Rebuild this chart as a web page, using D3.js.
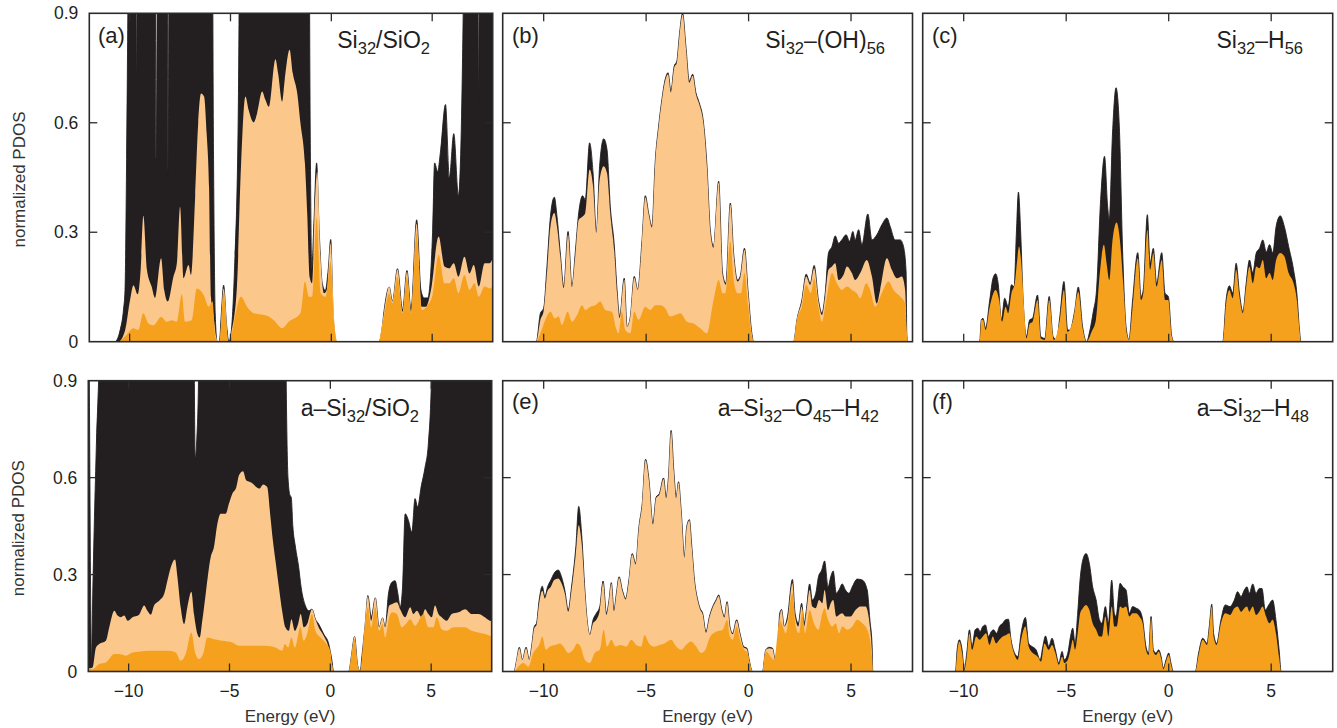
<!DOCTYPE html>
<html><head><meta charset="utf-8">
<script src="https://cdn.jsdelivr.net/npm/d3@7/dist/d3.min.js"></script>
<style>
html,body{margin:0;padding:0;background:#fff;}
svg{display:block;font-family:"Liberation Sans",Arial,Helvetica,sans-serif;}
</style></head>
<body>
<svg id="chart" width="1337" height="728"></svg>
<script>
// ---------------- data (energy in eV, normalized PDOS; cumulative levels) ----------------
const xTicks = [-10, -5, 0, 5];
const xTickLabels = ["\u221210", "\u22125", "0", "5"];
const yTicks = [0, 0.3, 0.6, 0.9];
const yTickLabels = ["0", "0.3", "0.6", "0.9"];
const panelLetters = ["(a)", "(b)", "(c)", "(d)", "(e)", "(f)"];
const panelFormulas = [
  [["Si",0],["32",1],["/SiO",0],["2",1]],
  [["Si",0],["32",1],["\u2013(OH)",0],["56",1]],
  [["Si",0],["32",1],["\u2013H",0],["56",1]],
  [["a\u2013Si",0],["32",1],["/SiO",0],["2",1]],
  [["a\u2013Si",0],["32",1],["\u2013O",0],["45",1],["\u2013H",0],["42",1]],
  [["a\u2013Si",0],["32",1],["\u2013H",0],["48",1]]
];

// (a) Si32/SiO2
const aTotal = [[-12,0],[-10.73,0],[-10.48,0.03],[-10.3,0.09],[-10.23,0.14],[-10.15,0.5],[-10.07,1.0],[-9.98,1.3],[-9.72,1.3],[-9.66,0.73],[-9.6,1.3],[-8.76,1.3],[-8.68,0.5],[-8.6,1.3],[-8.15,1.3],[-8.09,0.45],[-8.03,1.3],[-5.92,1.3],[-5.84,0.5],[-5.76,0.08],[-5.66,0],[-5.55,0],[-5.45,0.08],[-5.34,0.155],[-5.2,0.05],[-5.08,0],[-4.98,0.02],[-4.8,0.2],[-4.62,0.6],[-4.5,1.3],[-1.12,1.3],[-1.05,0.6],[-0.97,0.2],[-0.88,0.3],[-0.73,0.49],[-0.6,0.3],[-0.45,0.16],[-0.3,0.14],[-0.15,0.2],[-0.03,0.28],[0.1,0.06],[0.25,0],[2.37,0],[2.5,0.03],[2.62,0.087],[2.87,0.15],[3.03,0.11],[3.28,0.2],[3.53,0.087],[3.75,0.195],[3.95,0.087],[4.23,0.334],[4.44,0.142],[4.6,0.12],[4.78,0.12],[5.02,0.3],[5.12,0.49],[5.27,0.466],[5.41,0.52],[5.66,0.65],[5.85,0.45],[6.07,0.57],[6.3,0.40],[6.45,0.6],[6.55,0.95],[6.63,1.3],[7.24,1.3],[7.3,0.66],[7.36,1.3],[8,1.3]];
const aMid = [[-12,0],[-10.56,0],[-10.23,0.03],[-9.98,0.114],[-9.81,0.155],[-9.6,0.13],[-9.45,0.2],[-9.32,0.345],[-9.15,0.2],[-8.91,0.151],[-8.74,0.12],[-8.44,0.229],[-8.28,0.14],[-8.11,0.11],[-7.83,0.178],[-7.66,0.215],[-7.5,0.37],[-7.33,0.174],[-7.08,0.21],[-6.96,0.183],[-6.75,0.4],[-6.6,0.6],[-6.46,0.68],[-6.31,0.672],[-6.18,0.57],[-6.06,0.42],[-5.97,0.123],[-5.84,0.07],[-5.7,0.01],[-5.62,0],[-5.55,0],[-5.34,0.146],[-5.1,0],[-5.04,0],[-4.96,0.023],[-4.68,0.151],[-4.48,0.48],[-4.26,0.672],[-4.1,0.635],[-3.85,0.601],[-3.68,0.626],[-3.43,0.686],[-3.27,0.663],[-3.1,0.644],[-2.77,0.774],[-2.64,0.736],[-2.44,0.658],[-2.31,0.718],[-2.07,0.80],[-1.91,0.736],[-1.69,0.681],[-1.53,0.599],[-1.31,0.489],[-1.19,0.343],[-1.08,0.178],[-0.95,0.16],[-0.81,0.388],[-0.7,0.466],[-0.53,0.224],[-0.36,0.133],[-0.23,0.142],[-0.03,0.27],[0.13,0.069],[0.3,0],[2.37,0],[2.45,0.023],[2.62,0.082],[2.87,0.151],[3.03,0.11],[3.28,0.198],[3.53,0.082],[3.75,0.192],[3.95,0.082],[4.23,0.324],[4.48,0.096],[4.69,0.096],[4.94,0.142],[5.32,0.288],[5.61,0.206],[5.85,0.201],[6.07,0.215],[6.3,0.178],[6.6,0.233],[6.85,0.187],[7.06,0.21],[7.31,0.151],[7.6,0.215],[7.84,0.215],[8,0.229]];
const aLow = [[-12,0],[-10.56,0],[-10.23,0.014],[-9.81,0.037],[-9.57,0.032],[-9.32,0.078],[-9.07,0.05],[-8.82,0.045],[-8.44,0.068],[-8.16,0.055],[-7.91,0.059],[-7.66,0.055],[-7.41,0.13],[-7.25,0.055],[-6.92,0.059],[-6.67,0.146],[-6.33,0.128],[-6.08,0.096],[-5.89,0.11],[-5.75,0.014],[-5.62,0],[-5.55,0],[-5.34,0.133],[-5.1,0],[-5.04,0],[-4.84,0.05],[-4.48,0.123],[-4.18,0.096],[-3.85,0.078],[-3.35,0.073],[-3.1,0.069],[-2.85,0.059],[-2.44,0.037],[-2.11,0.055],[-1.53,0.078],[-1.31,0.165],[-1.11,0.123],[-0.95,0.123],[-0.73,0.34],[-0.53,0.133],[-0.28,0.123],[-0.03,0.219],[0.13,0.059],[0.3,0],[2.37,0],[2.45,0.023],[2.62,0.073],[2.87,0.133],[3.03,0.105],[3.28,0.178],[3.53,0.078],[3.75,0.178],[3.95,0.078],[4.23,0.297],[4.48,0.087],[4.78,0.10],[5.02,0.128],[5.32,0.238],[5.61,0.16],[5.85,0.16],[6.07,0.174],[6.3,0.133],[6.6,0.183],[6.85,0.142],[7.1,0.16],[7.31,0.123],[7.6,0.151],[7.84,0.146],[8,0.151]];

// (b) Si32-(OH)56
const bTotal = [[-12,0],[-10.36,0],[-10.16,0.078],[-10.0,0.092],[-9.84,0.206],[-9.67,0.343],[-9.48,0.396],[-9.35,0.343],[-9.19,0.243],[-9.02,0.151],[-8.81,0.302],[-8.62,0.151],[-8.46,0.243],[-8.29,0.353],[-8.10,0.40],[-7.97,0.389],[-7.76,0.545],[-7.59,0.462],[-7.43,0.298],[-7.27,0.481],[-7.07,0.556],[-6.91,0.527],[-6.75,0.371],[-6.55,0.261],[-6.42,0.142],[-6.29,0.069],[-6.07,0.174],[-5.93,0.041],[-5.77,0.069],[-5.58,0.179],[-5.41,0.142],[-5.20,0.279],[-5.04,0.40],[-4.88,0.353],[-4.72,0.316],[-4.55,0.499],[-4.39,0.591],[-4.23,0.664],[-4.07,0.719],[-3.93,0.737],[-3.79,0.687],[-3.63,0.755],[-3.50,0.769],[-3.38,0.838],[-3.22,0.90],[-3.06,0.81],[-2.89,0.714],[-2.73,0.733],[-2.57,0.682],[-2.41,0.655],[-2.20,0.60],[-2.03,0.481],[-1.87,0.307],[-1.71,0.261],[-1.46,0.44],[-1.27,0.188],[-1.11,0.16],[-0.89,0.38],[-0.73,0.243],[-0.54,0.169],[-0.41,0.179],[-0.20,0.256],[-0.03,0.142],[0.16,0.023],[0.24,0],[2.2,0],[2.36,0.06],[2.60,0.114],[2.81,0.185],[3.01,0.16],[3.20,0.209],[3.41,0.114],[3.58,0.078],[3.74,0.133],[3.90,0.243],[4.07,0.261],[4.23,0.29],[4.39,0.27],[4.55,0.279],[4.76,0.293],[4.93,0.275],[5.09,0.302],[5.20,0.279],[5.37,0.307],[5.53,0.266],[5.82,0.35],[6.02,0.279],[6.26,0.293],[6.50,0.32],[6.75,0.339],[6.91,0.316],[7.15,0.279],[7.40,0.279],[7.56,0.261],[7.69,0.188],[7.72,0.023],[7.76,0],[8,0]];
const bMid = [[-12,0],[-10.36,0],[-10.16,0.06],[-10.0,0.085],[-9.84,0.188],[-9.67,0.316],[-9.48,0.353],[-9.35,0.316],[-9.19,0.234],[-9.02,0.147],[-8.81,0.293],[-8.62,0.149],[-8.46,0.234],[-8.29,0.334],[-8.10,0.343],[-7.97,0.353],[-7.76,0.472],[-7.59,0.426],[-7.43,0.298],[-7.27,0.444],[-7.07,0.481],[-6.91,0.462],[-6.75,0.35],[-6.55,0.243],[-6.42,0.133],[-6.29,0.065],[-6.07,0.17],[-5.93,0.041],[-5.77,0.069],[-5.58,0.175],[-5.41,0.142],[-5.20,0.275],[-5.04,0.396],[-4.88,0.35],[-4.72,0.313],[-4.55,0.496],[-4.39,0.588],[-4.23,0.66],[-4.07,0.715],[-3.93,0.733],[-3.79,0.683],[-3.63,0.75],[-3.50,0.765],[-3.38,0.834],[-3.22,0.896],[-3.06,0.806],[-2.89,0.71],[-2.73,0.729],[-2.57,0.678],[-2.41,0.651],[-2.20,0.596],[-2.03,0.477],[-1.87,0.303],[-1.71,0.257],[-1.46,0.436],[-1.27,0.184],[-1.11,0.156],[-0.89,0.376],[-0.73,0.239],[-0.54,0.165],[-0.41,0.175],[-0.20,0.252],[-0.03,0.138],[0.16,0.02],[0.24,0],[2.2,0],[2.36,0.06],[2.60,0.11],[2.81,0.179],[3.01,0.156],[3.20,0.201],[3.41,0.11],[3.58,0.073],[3.74,0.124],[3.90,0.197],[4.07,0.206],[4.23,0.215],[4.39,0.169],[4.63,0.183],[4.80,0.206],[5.04,0.188],[5.20,0.169],[5.45,0.188],[5.77,0.224],[6.02,0.179],[6.26,0.105],[6.42,0.142],[6.75,0.229],[6.99,0.197],[7.24,0.174],[7.48,0.179],[7.64,0.142],[7.72,0.023],[7.76,0],[8,0]];
const bLow = [[-12,0],[-10.36,0],[-10.16,0.023],[-9.92,0.06],[-9.67,0.082],[-9.46,0.064],[-9.27,0.069],[-9.11,0.046],[-8.83,0.082],[-8.62,0.055],[-8.37,0.073],[-8.13,0.10],[-7.97,0.087],[-7.72,0.096],[-7.48,0.10],[-7.24,0.11],[-6.99,0.087],[-6.67,0.082],[-6.47,0.037],[-6.34,0.023],[-6.18,0.082],[-6.02,0.032],[-5.77,0.023],[-5.58,0.082],[-5.37,0.06],[-5.04,0.096],[-4.80,0.087],[-4.55,0.10],[-4.31,0.10],[-4.07,0.092],[-3.82,0.069],[-3.58,0.073],[-3.33,0.078],[-3.01,0.055],[-2.68,0.05],[-2.36,0.037],[-2.03,0.023],[-1.71,0.114],[-1.46,0.169],[-1.27,0.133],[-1.14,0.133],[-0.89,0.275],[-0.73,0.169],[-0.54,0.133],[-0.37,0.133],[-0.20,0.188],[-0.03,0.105],[0.16,0.014],[0.24,0],[2.2,0],[2.36,0.06],[2.60,0.096],[2.81,0.156],[3.04,0.133],[3.20,0.174],[3.41,0.096],[3.58,0.055],[3.74,0.096],[3.90,0.151],[4.07,0.188],[4.31,0.16],[4.55,0.142],[4.80,0.151],[5.04,0.142],[5.28,0.133],[5.45,0.119],[5.74,0.16],[5.93,0.142],[6.18,0.096],[6.50,0.133],[6.83,0.165],[7.07,0.142],[7.40,0.124],[7.64,0.105],[7.72,0.023],[7.76,0],[8,0]];

// (c) Si32-H56
const cTotal = [[-12,0],[-9.22,0],[-9.14,0.06],[-9.06,0.064],[-8.93,0.037],[-8.73,0.114],[-8.57,0.174],[-8.44,0.186],[-8.32,0.16],[-8.16,0.06],[-8.0,0.119],[-7.83,0.096],[-7.67,0.156],[-7.54,0.151],[-7.43,0.298],[-7.33,0.41],[-7.22,0.298],[-7.10,0.114],[-6.94,0.014],[-6.78,0.06],[-6.64,0.064],[-6.40,0.128],[-6.24,0.014],[-6.04,0.009],[-5.83,0.124],[-5.64,0.014],[-5.47,0.005],[-5.31,0.069],[-5.11,0.165],[-4.93,0.032],[-4.82,0.032],[-4.58,0.087],[-4.41,0.15],[-4.20,0.041],[-4.01,0],[-3.84,0.032],[-3.68,0.082],[-3.52,0.142],[-3.32,0.389],[-3.13,0.508],[-2.98,0.371],[-2.90,0.334],[-2.74,0.572],[-2.57,0.696],[-2.41,0.591],[-2.25,0.252],[-2.08,0.041],[-1.94,0.005],[-1.76,0.114],[-1.51,0.244],[-1.35,0.124],[-1.24,0.142],[-1.04,0.348],[-0.91,0.215],[-0.75,0.256],[-0.59,0.160],[-0.34,0.244],[-0.18,0.133],[-0.02,0.124],[0.15,0.014],[0.26,0],[2.64,0],[2.80,0.114],[2.96,0.153],[3.13,0.133],[3.29,0.215],[3.45,0.133],[3.62,0.082],[3.78,0.16],[3.94,0.224],[4.10,0.188],[4.27,0.243],[4.43,0.256],[4.59,0.279],[4.76,0.246],[4.92,0.266],[5.08,0.243],[5.24,0.316],[5.44,0.345],[5.64,0.316],[5.85,0.261],[6.09,0.197],[6.25,0.133],[6.38,0.032],[6.45,0],[8,0]];
const cLow = [[-12,0],[-9.22,0],[-9.14,0.06],[-9.06,0.06],[-8.93,0.032],[-8.73,0.096],[-8.44,0.142],[-8.27,0.114],[-8.13,0.055],[-7.96,0.096],[-7.83,0.078],[-7.67,0.133],[-7.51,0.16],[-7.39,0.224],[-7.30,0.261],[-7.18,0.206],[-7.05,0.087],[-6.94,0.009],[-6.78,0.05],[-6.64,0.055],[-6.40,0.114],[-6.24,0.009],[-6.04,0.005],[-5.83,0.114],[-5.60,0.005],[-5.31,0.06],[-5.11,0.142],[-4.93,0.027],[-4.66,0.06],[-4.41,0.137],[-4.20,0.037],[-4.01,0],[-3.76,0.027],[-3.55,0.06],[-3.36,0.188],[-3.16,0.266],[-3.03,0.215],[-2.90,0.169],[-2.74,0.279],[-2.54,0.327],[-2.38,0.279],[-2.21,0.151],[-2.05,0.023],[-1.94,0.005],[-1.76,0.096],[-1.51,0.229],[-1.35,0.114],[-1.24,0.133],[-1.04,0.307],[-0.91,0.197],[-0.75,0.243],[-0.59,0.151],[-0.34,0.224],[-0.18,0.114],[-0.02,0.114],[0.15,0.014],[0.26,0],[2.64,0],[2.80,0.105],[2.96,0.142],[3.13,0.119],[3.29,0.197],[3.45,0.124],[3.62,0.078],[3.78,0.151],[3.94,0.206],[4.10,0.16],[4.27,0.206],[4.43,0.201],[4.59,0.224],[4.76,0.174],[4.92,0.188],[5.08,0.169],[5.24,0.224],[5.44,0.243],[5.64,0.234],[5.85,0.188],[6.09,0.16],[6.25,0.114],[6.38,0.032],[6.45,0],[8,0]];

// (d) a-Si32/SiO2
const dTotal = [[-12,1.3],[-11.95,0.9],[-11.88,0.2],[-11.84,0.02],[-11.79,0.2],[-11.6,0.7],[-11.45,1.0],[-11.37,1.3],[-6.8,1.3],[-6.7,0.66],[-6.62,0.72],[-6.55,0.85],[-6.45,1.3],[-2.25,1.3],[-2.19,0.9],[-2.1,0.6],[-2.0,0.545],[-1.94,0.54],[-1.86,0.45],[-1.73,0.385],[-1.57,0.323],[-1.45,0.261],[-1.24,0.204],[-1.07,0.188],[-0.91,0.193],[-0.74,0.162],[-0.58,0.147],[-0.33,0.116],[-0.08,0.085],[0.08,0.033],[0.16,0],[0.91,0],[1.05,0.05],[1.2,0.108],[1.35,0.02],[1.48,0],[1.57,0.05],[1.73,0.147],[1.86,0.235],[2.03,0.168],[2.23,0.228],[2.42,0.137],[2.59,0.166],[2.72,0.137],[2.88,0.24],[3.05,0.276],[3.21,0.281],[3.35,0.24],[3.46,0.199],[3.58,0.261],[3.71,0.488],[3.87,0.468],[4.04,0.431],[4.2,0.535],[4.33,0.509],[4.5,0.571],[4.7,0.633],[4.86,0.705],[5.03,0.95],[5.1,1.3],[8,1.3]];
const dMid = [[-12,0.01],[-11.9,0.01],[-11.79,0.012],[-11.62,0.074],[-11.46,0.085],[-11.13,0.095],[-10.96,0.137],[-10.71,0.188],[-10.55,0.173],[-10.38,0.168],[-10.22,0.173],[-10.05,0.157],[-9.81,0.168],[-9.48,0.176],[-9.23,0.204],[-9.07,0.188],[-8.90,0.176],[-8.74,0.204],[-8.49,0.219],[-8.24,0.24],[-8.08,0.281],[-7.91,0.323],[-7.70,0.347],[-7.58,0.292],[-7.42,0.199],[-7.25,0.147],[-7.09,0.199],[-6.89,0.247],[-6.76,0.178],[-6.59,0.116],[-6.48,0.105],[-6.35,0.157],[-6.18,0.24],[-5.93,0.354],[-5.77,0.385],[-5.60,0.457],[-5.44,0.488],[-5.19,0.488],[-5.03,0.519],[-4.86,0.55],[-4.66,0.571],[-4.53,0.607],[-4.33,0.62],[-4.17,0.592],[-4.01,0.587],[-3.84,0.581],[-3.68,0.571],[-3.51,0.566],[-3.33,0.579],[-3.13,0.571],[-2.97,0.478],[-2.85,0.406],[-2.72,0.343],[-2.55,0.261],[-2.39,0.188],[-2.23,0.137],[-2.06,0.126],[-1.93,0.162],[-1.76,0.126],[-1.60,0.147],[-1.47,0.178],[-1.32,0.137],[-1.15,0.147],[-0.91,0.193],[-0.74,0.162],[-0.58,0.137],[-0.33,0.111],[-0.08,0.074],[0.08,0.023],[0.16,0],[0.91,0],[1.05,0.05],[1.2,0.108],[1.35,0.02],[1.48,0],[1.57,0.033],[1.73,0.157],[1.86,0.233],[2.03,0.157],[2.23,0.228],[2.42,0.137],[2.59,0.166],[2.72,0.137],[2.92,0.204],[3.08,0.209],[3.30,0.214],[3.46,0.193],[3.71,0.168],[3.96,0.199],[4.12,0.178],[4.29,0.188],[4.53,0.168],[4.70,0.193],[4.86,0.178],[5.03,0.168],[5.19,0.204],[5.36,0.178],[5.52,0.168],[5.77,0.157],[6.02,0.178],[6.35,0.183],[6.68,0.193],[7.01,0.178],[7.33,0.178],[7.66,0.168],[7.91,0.157],[8,0.155]];
const dLow = [[-12,0.01],[-11.79,0.007],[-11.46,0.023],[-11.13,0.028],[-10.71,0.054],[-10.47,0.054],[-10.14,0.049],[-9.81,0.059],[-9.48,0.061],[-8.98,0.064],[-8.49,0.064],[-7.99,0.064],[-7.66,0.059],[-7.42,0.033],[-7.17,0.054],[-6.89,0.121],[-6.68,0.054],[-6.51,0.038],[-6.31,0.054],[-6.10,0.105],[-5.77,0.10],[-5.36,0.095],[-4.86,0.09],[-4.53,0.08],[-3.87,0.08],[-3.21,0.08],[-2.72,0.074],[-2.39,0.064],[-2.26,0.085],[-2.09,0.074],[-1.93,0.105],[-1.76,0.074],[-1.48,0.137],[-1.32,0.095],[-1.15,0.116],[-0.91,0.178],[-0.74,0.126],[-0.49,0.105],[-0.25,0.09],[0,0.064],[0.08,0.023],[0.16,0],[0.91,0],[1.05,0.05],[1.2,0.10],[1.35,0.02],[1.48,0],[1.65,0.105],[1.86,0.199],[2.03,0.137],[2.23,0.199],[2.42,0.126],[2.59,0.147],[2.72,0.105],[2.92,0.168],[3.08,0.183],[3.30,0.178],[3.54,0.137],[3.74,0.147],[3.96,0.162],[4.20,0.142],[4.62,0.178],[4.86,0.137],[5.11,0.137],[5.27,0.168],[5.52,0.131],[5.77,0.126],[6.10,0.137],[6.43,0.137],[6.68,0.137],[7.01,0.126],[7.33,0.121],[7.66,0.116],[7.91,0.111],[8,0.11]];

// (e) a-Si32-O45-H42
const eTotal = [[-12,0],[-11.45,0],[-11.32,0.036],[-11.19,0.075],[-11.04,0.036],[-10.86,0.075],[-10.70,0.036],[-10.59,0.077],[-10.46,0.139],[-10.35,0.149],[-10.22,0.221],[-10.07,0.264],[-9.94,0.232],[-9.81,0.262],[-9.65,0.283],[-9.49,0.304],[-9.29,0.314],[-9.13,0.293],[-8.97,0.252],[-8.80,0.19],[-8.64,0.262],[-8.43,0.386],[-8.29,0.511],[-8.15,0.427],[-7.99,0.252],[-7.88,0.16],[-7.75,0.113],[-7.59,0.16],[-7.43,0.18],[-7.26,0.201],[-7.10,0.28],[-6.94,0.18],[-6.81,0.221],[-6.70,0.275],[-6.57,0.19],[-6.45,0.242],[-6.32,0.293],[-6.16,0.252],[-6.00,0.226],[-5.84,0.283],[-5.68,0.365],[-5.51,0.334],[-5.35,0.448],[-5.19,0.52],[-5.03,0.657],[-4.86,0.592],[-4.67,0.458],[-4.51,0.54],[-4.35,0.551],[-4.15,0.599],[-4.02,0.54],[-3.91,0.602],[-3.78,0.746],[-3.65,0.623],[-3.53,0.54],[-3.42,0.587],[-3.29,0.499],[-3.13,0.355],[-3.02,0.448],[-2.89,0.47],[-2.77,0.386],[-2.64,0.283],[-2.48,0.221],[-2.37,0.196],[-2.24,0.18],[-2.08,0.123],[-1.91,0.17],[-1.75,0.201],[-1.59,0.221],[-1.46,0.237],[-1.30,0.19],[-1.18,0.17],[-1.05,0.216],[-0.91,0.139],[-0.78,0.118],[-0.58,0.16],[-0.42,0.118],[-0.24,0.077],[-0.08,0.072],[0.03,0.036],[0.19,0],[0.68,0],[0.84,0.067],[1.01,0.075],[1.17,0.072],[1.30,0.036],[1.41,0.057],[1.52,0.18],[1.61,0.192],[1.74,0.139],[1.90,0.17],[2.14,0.285],[2.27,0.18],[2.43,0.149],[2.59,0.211],[2.71,0.149],[2.82,0.19],[2.98,0.271],[3.11,0.221],[3.28,0.242],[3.41,0.293],[3.57,0.314],[3.71,0.342],[3.88,0.262],[4.01,0.293],[4.13,0.311],[4.28,0.242],[4.41,0.252],[4.57,0.271],[4.73,0.252],[4.90,0.242],[5.06,0.262],[5.30,0.286],[5.55,0.283],[5.79,0.252],[5.92,0.16],[6.03,0.077],[6.06,0],[8,0]];
const eMid = [[-12,0],[-11.45,0],[-11.32,0.036],[-11.19,0.072],[-11.04,0.036],[-10.86,0.072],[-10.70,0.036],[-10.59,0.075],[-10.46,0.134],[-10.35,0.144],[-10.22,0.211],[-10.07,0.25],[-9.94,0.226],[-9.81,0.25],[-9.65,0.262],[-9.49,0.283],[-9.29,0.288],[-9.13,0.273],[-8.97,0.242],[-8.80,0.185],[-8.64,0.252],[-8.43,0.365],[-8.29,0.453],[-8.15,0.40],[-7.99,0.247],[-7.88,0.16],[-7.75,0.113],[-7.59,0.149],[-7.43,0.16],[-7.26,0.19],[-7.10,0.275],[-6.94,0.175],[-6.81,0.218],[-6.70,0.272],[-6.57,0.187],[-6.45,0.239],[-6.32,0.29],[-6.16,0.249],[-6.00,0.223],[-5.84,0.28],[-5.68,0.362],[-5.51,0.331],[-5.35,0.445],[-5.19,0.517],[-5.03,0.654],[-4.86,0.589],[-4.67,0.455],[-4.51,0.537],[-4.35,0.548],[-4.15,0.596],[-4.02,0.537],[-3.91,0.599],[-3.78,0.743],[-3.65,0.62],[-3.53,0.537],[-3.42,0.584],[-3.29,0.496],[-3.13,0.352],[-3.02,0.445],[-2.89,0.467],[-2.77,0.383],[-2.64,0.28],[-2.48,0.218],[-2.37,0.193],[-2.24,0.177],[-2.08,0.12],[-1.91,0.167],[-1.75,0.198],[-1.59,0.218],[-1.46,0.234],[-1.30,0.187],[-1.18,0.167],[-1.05,0.213],[-0.91,0.136],[-0.78,0.115],[-0.58,0.157],[-0.42,0.115],[-0.24,0.074],[-0.08,0.069],[0.03,0.033],[0.19,0],[0.68,0],[0.84,0.067],[1.01,0.072],[1.17,0.07],[1.30,0.036],[1.41,0.057],[1.52,0.17],[1.61,0.19],[1.74,0.139],[1.90,0.16],[2.14,0.273],[2.27,0.17],[2.43,0.139],[2.59,0.201],[2.71,0.139],[2.82,0.18],[2.98,0.252],[3.11,0.201],[3.28,0.196],[3.44,0.221],[3.60,0.211],[3.71,0.252],[3.88,0.19],[4.01,0.211],[4.13,0.221],[4.28,0.17],[4.41,0.175],[4.57,0.18],[4.73,0.17],[4.98,0.17],[5.22,0.19],[5.46,0.201],[5.71,0.201],[5.92,0.139],[6.03,0.046],[6.06,0],[8,0]];
const eLow = [[-12,0],[-11.45,0],[-11.24,0.015],[-10.99,0.026],[-10.75,0.015],[-10.51,0.057],[-10.19,0.087],[-10.07,0.108],[-9.89,0.067],[-9.70,0.077],[-9.45,0.082],[-9.20,0.087],[-9.04,0.077],[-8.80,0.057],[-8.56,0.067],[-8.37,0.087],[-8.20,0.077],[-7.99,0.036],[-7.75,0.026],[-7.51,0.057],[-7.26,0.067],[-7.07,0.129],[-6.91,0.077],[-6.70,0.098],[-6.49,0.077],[-6.26,0.082],[-5.97,0.077],[-5.72,0.098],[-5.48,0.082],[-5.24,0.077],[-5.08,0.113],[-4.86,0.087],[-4.59,0.077],[-4.35,0.082],[-4.10,0.087],[-3.78,0.098],[-3.53,0.077],[-3.29,0.067],[-3.05,0.082],[-2.81,0.093],[-2.56,0.077],[-2.32,0.057],[-2.11,0.067],[-1.91,0.103],[-1.59,0.123],[-1.26,0.129],[-1.05,0.16],[-0.91,0.108],[-0.78,0.098],[-0.58,0.139],[-0.42,0.098],[-0.21,0.067],[-0.05,0.057],[0.06,0.026],[0.19,0],[0.68,0],[0.84,0.062],[1.25,0.036],[1.52,0.16],[1.61,0.149],[1.82,0.118],[2.14,0.242],[2.30,0.139],[2.46,0.118],[2.63,0.19],[2.76,0.118],[2.98,0.19],[3.19,0.149],[3.41,0.129],[3.60,0.18],[3.71,0.196],[3.88,0.16],[4.09,0.139],[4.25,0.149],[4.41,0.118],[4.57,0.139],[4.82,0.129],[5.06,0.139],[5.30,0.16],[5.55,0.149],[5.79,0.129],[5.95,0.087],[6.03,0.036],[6.06,0],[8,0]];

// (f) a-Si32-H48
const fTotal = [[-12,0],[-10.40,0],[-10.32,0.067],[-10.21,0.098],[-10.08,0.067],[-9.97,0.005],[-9.85,0.057],[-9.72,0.129],[-9.59,0.077],[-9.44,0.129],[-9.31,0.134],[-9.20,0.123],[-9.07,0.139],[-8.94,0.144],[-8.79,0.108],[-8.66,0.123],[-8.55,0.129],[-8.39,0.118],[-8.26,0.139],[-8.10,0.149],[-7.96,0.16],[-7.82,0.162],[-7.69,0.098],[-7.52,0.057],[-7.36,0.046],[-7.20,0.118],[-6.99,0.167],[-6.83,0.087],[-6.66,0.077],[-6.47,0.067],[-6.27,0.036],[-6.14,0.077],[-6.01,0.11],[-5.85,0.077],[-5.69,0.103],[-5.53,0.067],[-5.36,0.026],[-5.20,0.062],[-5.09,0.036],[-4.92,0.057],[-4.79,0.108],[-4.68,0.134],[-4.57,0.087],[-4.44,0.18],[-4.31,0.293],[-4.19,0.345],[-4.03,0.365],[-3.87,0.334],[-3.71,0.262],[-3.54,0.221],[-3.38,0.16],[-3.25,0.149],[-3.09,0.201],[-2.94,0.149],[-2.78,0.283],[-2.65,0.18],[-2.57,0.17],[-2.37,0.273],[-2.24,0.262],[-2.08,0.252],[-1.92,0.18],[-1.76,0.201],[-1.59,0.196],[-1.43,0.19],[-1.27,0.16],[-1.11,0.077],[-0.98,0.057],[-0.86,0.17],[-0.75,0.067],[-0.62,0.057],[-0.49,0.067],[-0.37,0.046],[-0.26,0.01],[-0.13,0.036],[0,0.057],[0.11,0.026],[0.23,0],[1.30,0],[1.46,0.057],[1.66,0.103],[1.87,0.087],[1.98,0.139],[2.10,0.208],[2.19,0.118],[2.34,0.087],[2.55,0.16],[2.76,0.206],[2.99,0.201],[3.20,0.221],[3.36,0.247],[3.53,0.232],[3.69,0.252],[3.82,0.262],[3.93,0.242],[4.10,0.271],[4.26,0.242],[4.42,0.257],[4.55,0.257],[4.71,0.19],[4.88,0.206],[5.07,0.221],[5.23,0.16],[5.40,0.057],[5.48,0],[8,0]];
const fLow = [[-12,0],[-10.40,0],[-10.32,0.057],[-10.21,0.093],[-10.08,0.057],[-9.97,0.005],[-9.85,0.046],[-9.72,0.118],[-9.59,0.067],[-9.39,0.108],[-9.23,0.098],[-9.07,0.108],[-8.91,0.118],[-8.74,0.082],[-8.58,0.108],[-8.42,0.087],[-8.26,0.098],[-8.10,0.108],[-7.93,0.113],[-7.77,0.118],[-7.64,0.077],[-7.48,0.046],[-7.36,0.036],[-7.20,0.098],[-6.99,0.139],[-6.83,0.077],[-6.63,0.057],[-6.39,0.046],[-6.22,0.031],[-6.06,0.087],[-5.85,0.067],[-5.69,0.082],[-5.53,0.057],[-5.36,0.021],[-5.20,0.046],[-5.09,0.026],[-4.92,0.036],[-4.76,0.077],[-4.68,0.098],[-4.57,0.067],[-4.44,0.118],[-4.32,0.18],[-4.19,0.196],[-4.03,0.206],[-3.87,0.19],[-3.71,0.149],[-3.54,0.129],[-3.38,0.108],[-3.25,0.108],[-3.09,0.17],[-2.94,0.108],[-2.78,0.201],[-2.65,0.139],[-2.54,0.139],[-2.37,0.201],[-2.24,0.196],[-2.08,0.201],[-1.92,0.17],[-1.76,0.18],[-1.59,0.18],[-1.43,0.17],[-1.27,0.149],[-1.11,0.067],[-0.98,0.051],[-0.86,0.165],[-0.75,0.062],[-0.62,0.051],[-0.49,0.062],[-0.37,0.041],[-0.26,0.007],[-0.13,0.031],[0,0.051],[0.11,0.021],[0.23,0],[1.30,0],[1.46,0.051],[1.66,0.098],[1.87,0.082],[1.98,0.134],[2.10,0.201],[2.19,0.108],[2.34,0.082],[2.55,0.149],[2.76,0.18],[2.99,0.175],[3.20,0.196],[3.36,0.201],[3.53,0.185],[3.69,0.196],[3.82,0.201],[3.93,0.185],[4.10,0.201],[4.26,0.175],[4.42,0.185],[4.58,0.201],[4.75,0.17],[4.91,0.149],[5.07,0.16],[5.23,0.118],[5.40,0.036],[5.48,0],[8,0]];

const seriesTotal = [aTotal, bTotal, cTotal, dTotal, eTotal, fTotal];
const seriesMid   = [aMid, bMid, null, dMid, eMid, null];
const seriesLow   = [aLow, bLow, cLow, dLow, eLow, fLow];

// ---------------- layout & style ----------------
const colors = { total: "#231f20", mid: "#fcc78b", low: "#f6a11d", frame: "#2b2b2b", text: "#231f20" };
const rows = [ {y0: 13.3, y1: 341.7}, {y0: 380.7, y1: 671.5} ];
const cols = [ [89.3, 492.7], [502.7, 912.5], [922.7, 1332.7] ];
const colsBottom = [ [88.3, 491.7], [502.7, 912.5], [922.7, 1332.7] ];
const formulaRight = [430, 885, 1303, 419, 879, 1309];
const letterLeft = [98, 512, 932, 109, 512, 932];

const svg = d3.select("#chart");
const defs = svg.append("defs");

for (let i = 0; i < 6; i++) {
  const r = Math.floor(i / 3), c = i % 3;
  const [x0, x1] = (r === 0 ? cols : colsBottom)[c];
  const { y0, y1 } = rows[r];
  const x = d3.scaleLinear().domain([-12, 8]).range([x0, x1]);
  const y = d3.scaleLinear().domain([0, 0.9]).range([y1, y0]);

  const g = svg.append("g");
  const clipId = "clip" + i;
  defs.append("clipPath").attr("id", clipId).append("rect")
    .attr("x", x0).attr("y", y0).attr("width", x1 - x0).attr("height", y1 - y0);

  const area = d3.area().curve(d3.curveMonotoneX)
    .x(d => x(d[0])).y0(y(0)).y1(d => y(d[1]));

  const pg = g.append("g").attr("clip-path", `url(#${clipId})`);
  pg.append("path").datum(seriesTotal[i]).attr("d", area)
    .attr("fill", colors.total).attr("stroke", colors.total).attr("stroke-width", 0.9);
  if (seriesMid[i]) {
    pg.append("path").datum(seriesMid[i]).attr("d", area).attr("fill", colors.mid);
  }
  pg.append("path").datum(seriesLow[i]).attr("d", area).attr("fill", colors.low);

  // frame
  g.append("rect").attr("x", x0).attr("y", y0).attr("width", x1 - x0).attr("height", y1 - y0)
    .attr("fill", "none").attr("stroke", colors.frame).attr("stroke-width", 1.6);

  // inward ticks on all four sides
  const tl = 8;
  const tg = g.append("g").attr("stroke", colors.frame).attr("stroke-width", 1.3);
  xTicks.forEach(t => {
    tg.append("line").attr("x1", x(t)).attr("x2", x(t)).attr("y1", y1).attr("y2", y1 - tl);
    tg.append("line").attr("x1", x(t)).attr("x2", x(t)).attr("y1", y0).attr("y2", y0 + tl);
  });
  yTicks.slice(1, 3).forEach(t => {
    tg.append("line").attr("x1", x0).attr("x2", x0 + tl).attr("y1", y(t)).attr("y2", y(t));
    tg.append("line").attr("x1", x1).attr("x2", x1 - tl).attr("y1", y(t)).attr("y2", y(t));
  });

  // y tick labels + title on first column
  if (c === 0) {
    yTicks.forEach((t, k) => {
      g.append("text").attr("x", x0 - 11).attr("y", y(t) + 6)
        .attr("text-anchor", "end").attr("font-size", 17.5).attr("fill", colors.text)
        .text(yTickLabels[k]);
    });
    g.append("text")
      .attr("transform", `translate(${x0 - 64},${(y0 + y1) / 2 + 2}) rotate(-90)`)
      .attr("text-anchor", "middle").attr("font-size", 17).attr("fill", "#333")
      .text("normalized PDOS");
  }
  // x tick labels + title on bottom row
  if (r === 1) {
    xTicks.forEach((t, k) => {
      g.append("text").attr("x", x(t)).attr("y", y1 + 25)
        .attr("text-anchor", "middle").attr("font-size", 17.5).attr("fill", colors.text)
        .text(xTickLabels[k]);
    });
    g.append("text").attr("x", (x0 + x1) / 2).attr("y", y1 + 50)
      .attr("text-anchor", "middle").attr("font-size", 17).attr("fill", "#333")
      .text("Energy (eV)");
  }

  // panel letter
  g.append("text").attr("x", letterLeft[i]).attr("y", y0 + (r === 0 ? 30 : 28))
    .attr("font-size", 22).attr("fill", colors.text).text(panelLetters[i]);

  // formula label with subscripts
  const ft = g.append("text").attr("x", formulaRight[i]).attr("y", y0 + 35)
    .attr("text-anchor", "end").attr("font-size", 23).attr("fill", colors.text);
  let prevSub = false;
  panelFormulas[i].forEach(([s, sub]) => {
    const ts = ft.append("tspan").text(s);
    if (sub && !prevSub) ts.attr("dy", 6).attr("font-size", 16.5);
    else if (!sub && prevSub) ts.attr("dy", -6);
    else if (sub) ts.attr("font-size", 16.5);
    prevSub = !!sub;
  });
}
</script>
</body></html>
